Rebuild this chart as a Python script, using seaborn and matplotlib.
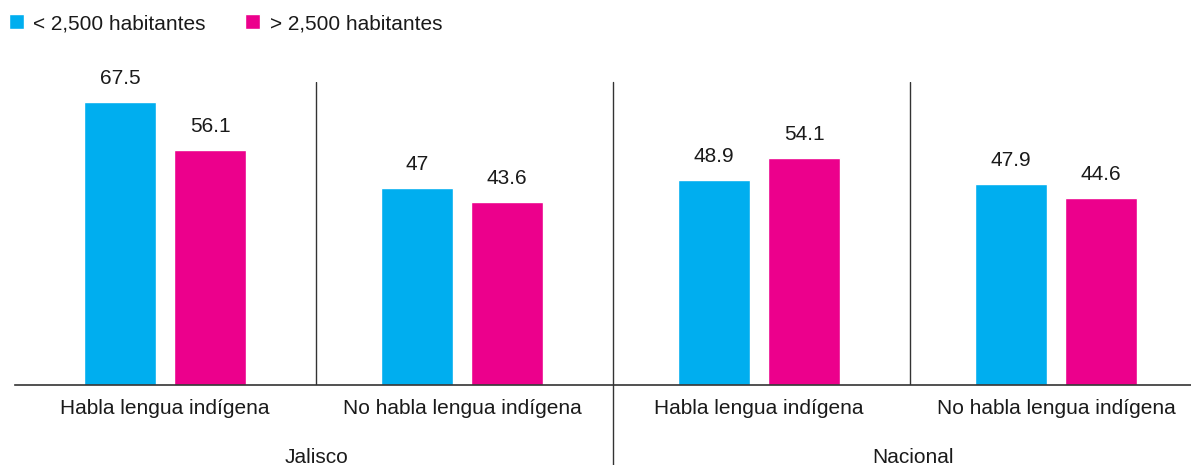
import matplotlib
matplotlib.use("Agg")
import matplotlib.pyplot as plt
import matplotlib.transforms as mtransforms
import seaborn as sns
import pandas as pd

regions = ["Jalisco", "Jalisco", "Nacional", "Nacional"]
categories = ["Habla lengua indígena", "No habla lengua indígena",
              "Habla lengua indígena", "No habla lengua indígena"]
series_names = ["< 2,500 habitantes", "> 2,500 habitantes"]
small_values = [67.5, 47, 48.9, 47.9]
large_values = [56.1, 43.6, 54.1, 44.6]
colors = ["#00AEEF", "#EC008C"]

rows = []
for i, (r, c) in enumerate(zip(regions, categories)):
    key = f"{i}"
    rows.append({"key": key, "serie": series_names[0], "valor": small_values[i]})
    rows.append({"key": key, "serie": series_names[1], "valor": large_values[i]})
df = pd.DataFrame(rows)

sns.set_theme(style="white")
plt.rcParams['font.family'] = ['Liberation Sans', 'DejaVu Sans']

FS = 15
TXT = "#1a1a1a"

fig = plt.figure(figsize=(11.91, 4.65), dpi=100)
W, H = 1191, 465
ax = fig.add_axes([15 / W, (H - 385) / H, (1191 - 15) / W, (385 - 82) / H])

sns.barplot(data=df, x="key", y="valor", hue="serie", order=["0", "1", "2", "3"],
            hue_order=series_names, palette=colors, width=0.608, gap=0.2,
            saturation=1, ax=ax, legend=True)

for cont in ax.containers:
    ax.bar_label(cont, fmt="%g", padding=10, fontsize=FS, color=TXT)

ax.set_xlim(-0.505, 3.455)
ax.set_ylim(0, 72.3)
ax.set_xlabel("")
ax.set_ylabel("")
ax.set_yticks([])
ax.set_xticks(range(4))
ax.set_xticklabels(categories, fontsize=FS, color=TXT)
ax.tick_params(axis="x", length=0, pad=10)
for s in ["top", "right", "left"]:
    ax.spines[s].set_visible(False)
ax.spines["bottom"].set_color("#333333")
ax.spines["bottom"].set_linewidth(1.2)

ax.axvline(0.51, ymin=0, ymax=1, color="#333333", lw=1)
ax.axvline(2.51, ymin=0, ymax=1, color="#333333", lw=1)
ax.axvline(1.51, ymin=-0.27, ymax=1, color="#333333", lw=1, clip_on=False)

trans = mtransforms.blended_transform_factory(ax.transData, ax.transAxes)
ax.text(0.51, -0.24, "Jalisco", transform=trans, ha="center", va="center",
        fontsize=FS, color=TXT)
ax.text(2.52, -0.24, "Nacional", transform=trans, ha="center", va="center",
        fontsize=FS, color=TXT)

handles, labels = ax.get_legend_handles_labels()
ax.get_legend().remove()
fig.legend(handles, labels, loc="upper left", bbox_to_anchor=(9 / W, 1 - 14 / H),
           ncol=2, frameon=False, fontsize=FS, handlelength=0.72,
           handleheight=0.72, handletextpad=0.45, columnspacing=1.9,
           borderaxespad=0, borderpad=0, labelcolor=TXT)

fig.savefig("out.png", dpi=100, facecolor="white")
